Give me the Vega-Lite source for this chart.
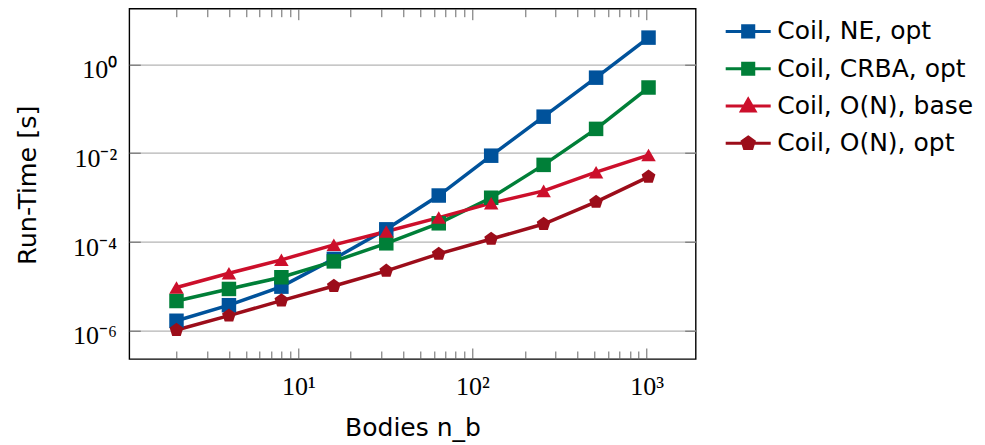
{
  "$schema": "https://vega.github.io/schema/vega-lite/v6.json",
  "autosize": {"type": "none"},
  "width": 566.4,
  "height": 350.3,
  "padding": {"left": 129.3, "top": 8.7, "right": 289.3, "bottom": 86},
  "background": "white",
  "config": {"view": {"stroke": "#000000", "strokeWidth": 1.4}},
  "data": {"values": [
    {"series": "Coil, NE, opt", "n": 2, "t": 1.65e-6},
    {"series": "Coil, NE, opt", "n": 4, "t": 3.7e-6},
    {"series": "Coil, NE, opt", "n": 8, "t": 9.7e-6},
    {"series": "Coil, NE, opt", "n": 16, "t": 4.1e-5},
    {"series": "Coil, NE, opt", "n": 32, "t": 1.9e-4},
    {"series": "Coil, NE, opt", "n": 64, "t": 1.1e-3},
    {"series": "Coil, NE, opt", "n": 128, "t": 8.7e-3},
    {"series": "Coil, NE, opt", "n": 256, "t": 6.6e-2},
    {"series": "Coil, NE, opt", "n": 512, "t": 0.5},
    {"series": "Coil, NE, opt", "n": 1024, "t": 4.0},
    {"series": "Coil, CRBA, opt", "n": 2, "t": 4.6e-6},
    {"series": "Coil, CRBA, opt", "n": 4, "t": 8.6e-6},
    {"series": "Coil, CRBA, opt", "n": 8, "t": 1.58e-5},
    {"series": "Coil, CRBA, opt", "n": 16, "t": 3.6e-5},
    {"series": "Coil, CRBA, opt", "n": 32, "t": 9.2e-5},
    {"series": "Coil, CRBA, opt", "n": 64, "t": 2.6e-4},
    {"series": "Coil, CRBA, opt", "n": 128, "t": 9.8e-4},
    {"series": "Coil, CRBA, opt", "n": 256, "t": 5.4e-3},
    {"series": "Coil, CRBA, opt", "n": 512, "t": 0.035},
    {"series": "Coil, CRBA, opt", "n": 1024, "t": 0.30},
    {"series": "Coil, O(N), base", "n": 2, "t": 9.3e-6},
    {"series": "Coil, O(N), base", "n": 4, "t": 1.94e-5},
    {"series": "Coil, O(N), base", "n": 8, "t": 3.9e-5},
    {"series": "Coil, O(N), base", "n": 16, "t": 8.5e-5},
    {"series": "Coil, O(N), base", "n": 32, "t": 1.7e-4},
    {"series": "Coil, O(N), base", "n": 64, "t": 3.5e-4},
    {"series": "Coil, O(N), base", "n": 128, "t": 7.4e-4},
    {"series": "Coil, O(N), base", "n": 256, "t": 1.4e-3},
    {"series": "Coil, O(N), base", "n": 512, "t": 3.7e-3},
    {"series": "Coil, O(N), base", "n": 1024, "t": 9.0e-3},
    {"series": "Coil, O(N), opt", "n": 2, "t": 1.02e-6},
    {"series": "Coil, O(N), opt", "n": 4, "t": 2.15e-6},
    {"series": "Coil, O(N), opt", "n": 8, "t": 4.7e-6},
    {"series": "Coil, O(N), opt", "n": 16, "t": 1.0e-5},
    {"series": "Coil, O(N), opt", "n": 32, "t": 2.2e-5},
    {"series": "Coil, O(N), opt", "n": 64, "t": 5.3e-5},
    {"series": "Coil, O(N), opt", "n": 128, "t": 1.15e-4},
    {"series": "Coil, O(N), opt", "n": 256, "t": 2.5e-4},
    {"series": "Coil, O(N), opt", "n": 512, "t": 7.9e-4},
    {"series": "Coil, O(N), opt", "n": 1024, "t": 2.9e-3}
  ]},
  "resolve": {"axis": {"x": "independent", "y": "independent"}, "legend": {"color": "independent", "shape": "independent"}},
  "layer": [
    {
      "mark": {"type": "line", "strokeWidth": 3.5},
      "encoding": {
        "x": {"field": "n", "type": "quantitative",
          "scale": {"type": "log", "domain": [1.072, 1910], "nice": false},
          "axis": {"orient": "bottom", "values": [10, 100, 1000], "tickSize": -11, "tickColor": "#666666", "tickWidth": 1,
            "domain": false, "grid": false,
            "labelExpr": "datum.value < 50 ? '10¹' : datum.value < 500 ? '10²' : '10³'",
            "labelFont": "Liberation Serif", "labelFontSize": 26, "labelColor": "#000000",
            "labelBaseline": "alphabetic", "labelPadding": 46, "labelFlush": false, "labelOverlap": false,
            "title": "Bodies n_b", "titleFont": "DejaVu Sans", "titleFontSize": 25, "titleFontWeight": "normal", "titleColor": "#000000",
            "titleBaseline": "alphabetic", "titleAlign": "center", "titleX": 283.2, "titleY": 76}},
        "y": {"field": "t", "type": "quantitative",
          "scale": {"type": "log", "domain": [2.265e-7, 17.95], "nice": false},
          "axis": {"orient": "left", "values": [1, 0.01, 0.0001, 0.000001], "tickSize": -11, "tickColor": "#666666", "tickWidth": 1,
            "domain": false, "grid": true, "gridColor": "#b4b4b4", "gridWidth": 1.2,
            "labelExpr": "datum.value > 0.5 ? '10⁰' : datum.value > 0.005 ? '10⁻²' : datum.value > 0.00005 ? '10⁻⁴' : '10⁻⁶'",
            "labelFont": "Liberation Serif", "labelFontSize": 26, "labelColor": "#000000",
            "labelBaseline": "alphabetic", "labelOffset": 13.4, "labelPadding": 23.6, "labelFlush": false, "labelOverlap": false,
            "title": "Run-Time [s]", "titleFont": "DejaVu Sans", "titleFontSize": 25.5, "titleFontWeight": "normal", "titleColor": "#000000",
            "titleBaseline": "alphabetic", "titleAlign": "center", "titleAngle": -90, "titleX": -94.3, "titleY": 176}},
        "color": {"field": "series", "type": "nominal",
          "scale": {"domain": ["Coil, NE, opt", "Coil, CRBA, opt", "Coil, O(N), base", "Coil, O(N), opt"],
                    "range": ["#00529b", "#007f38", "#cc0f2b", "#9c0d1a"]},
          "legend": {
            "orient": "none", "legendX": 602.4, "legendY": 6.2, "title": null, "padding": 0,
            "symbolSize": 900, "symbolStrokeWidth": 3, "rowPadding": 7.3,
            "labelFont": "DejaVu Sans", "labelFontSize": 25, "labelColor": "#000000", "labelOffset": 12.5, "labelLimit": 0,
            "labelBaseline": "middle",
            "encode": {"symbols": {"update": {
              "shape": {"signal": "datum.value === 'Coil, O(N), base' ? 'M-1.5,0H1.5M0,-0.45L0.45,0.33L-0.45,0.33Z' : datum.value === 'Coil, O(N), opt' ? 'M-1.5,0H1.5M0,-0.42L0.4,-0.13L0.25,0.34L-0.25,0.34L-0.4,-0.13Z' : 'M-1.5,0H1.5M-0.37,-0.37H0.37V0.37H-0.37Z'"},
              "size": {"value": 900},
              "stroke": {"signal": "scale('color', datum.value)"},
              "fill": {"signal": "scale('color', datum.value)"},
              "strokeWidth": {"value": 3},
              "opacity": {"value": 1},
              "fillOpacity": {"value": 1},
              "strokeOpacity": {"value": 1}
            }}}
          }}
      }
    },
    {
      "mark": {"type": "point", "filled": true, "opacity": 1, "size": 210},
      "encoding": {
        "x": {"field": "n", "type": "quantitative",
          "axis": {"orient": "top", "values": [10, 100, 1000], "tickSize": -11, "tickColor": "#666666", "tickWidth": 1,
            "domain": false, "grid": false, "labels": false, "title": null}},
        "y": {"field": "t", "type": "quantitative",
          "axis": {"orient": "right", "values": [1, 0.01, 0.0001, 0.000001], "tickSize": -11, "tickColor": "#666666", "tickWidth": 1,
            "domain": false, "grid": false, "labels": false, "title": null}},
        "color": {"field": "series", "type": "nominal", "legend": null},
        "shape": {"field": "series", "type": "nominal", "legend": null,
          "scale": {"domain": ["Coil, NE, opt", "Coil, CRBA, opt", "Coil, O(N), base", "Coil, O(N), opt"],
                    "range": ["square", "square", "triangle-up", "M0,-1L0.951,-0.309L0.588,0.809L-0.588,0.809L-0.951,-0.309Z"]}}
      }
    },
    {
      "mark": {"type": "point", "opacity": 0},
      "encoding": {
        "x": {"field": "n", "type": "quantitative",
          "axis": {"orient": "bottom", "values": [2, 3, 4, 5, 6, 7, 8, 9, 20, 30, 40, 50, 60, 70, 80, 90, 200, 300, 400, 500, 600, 700, 800, 900],
            "tickSize": -8, "tickColor": "#666666", "tickWidth": 1, "domain": false, "grid": false, "labels": false, "title": null}},
        "y": {"field": "t", "type": "quantitative", "axis": null}
      }
    },
    {
      "mark": {"type": "point", "opacity": 0},
      "encoding": {
        "x": {"field": "n", "type": "quantitative",
          "axis": {"orient": "top", "values": [2, 3, 4, 5, 6, 7, 8, 9, 20, 30, 40, 50, 60, 70, 80, 90, 200, 300, 400, 500, 600, 700, 800, 900],
            "tickSize": -8, "tickColor": "#666666", "tickWidth": 1, "domain": false, "grid": false, "labels": false, "title": null}},
        "y": {"field": "t", "type": "quantitative", "axis": null}
      }
    }
  ]
}
